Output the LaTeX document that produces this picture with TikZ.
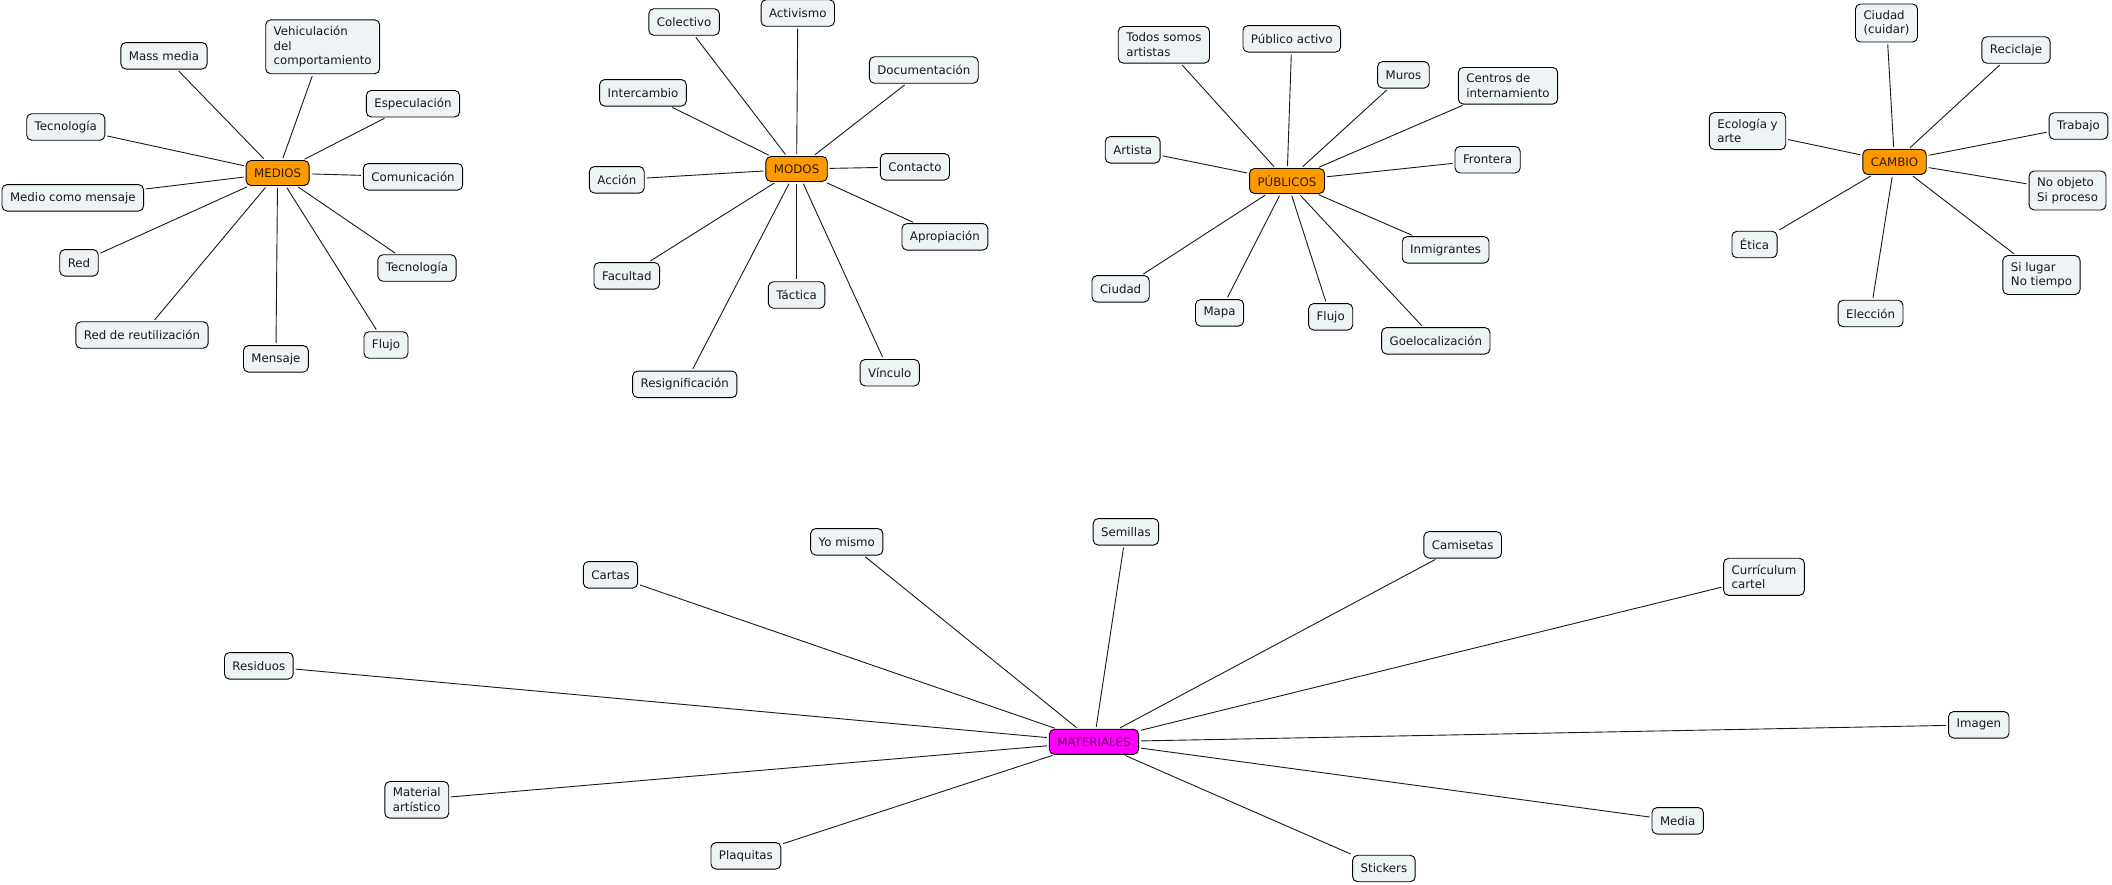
\documentclass[tikz,border=0pt]{standalone}
\usepackage{fontspec}
\setmainfont{DejaVu Sans}
\usepackage{tikz}
\definecolor{leaffill}{HTML}{EEF3F5}
\definecolor{hubfill}{HTML}{FF9900}
\definecolor{hubtext}{HTML}{2E1C00}
\definecolor{matfill}{HTML}{FF00FF}
\definecolor{mattext}{HTML}{5C005C}

\begin{document}
\begin{tikzpicture}[x=1pt, y=-1pt,
        leaf/.style={draw=black, line width=.9pt, fill=leaffill, rounded corners=5pt, align=left,
                inner xsep=8pt, inner ysep=6.5pt, minimum height=26.5pt,
                font=\fontsize{11.8}{14.5}\selectfont, text=black!90},
        hub/.style={leaf, fill=hubfill, text=hubtext, minimum height=25pt},
        link/.style={draw=black!90, line width=.9pt, shorten <=2pt, shorten >=2pt}]
        \useasboundingbox (0, 0) rectangle (2112, 884);

        % MEDIOS
        \node[hub] (medios) at (277.6, 173) {MEDIOS};
        \node[leaf] (massmedia) at (164, 55.8) {Mass media};
        \node[leaf] (vehiculacion) at (322.7, 46.8) {Vehiculación\\del\\comportamiento};
        \node[leaf] (especulacion) at (413, 103.7) {Especulación};
        \node[leaf] (tecnologiaA) at (65.8, 127) {Tecnología};
        \node[leaf] (comunicacion) at (413, 176.8) {Comunicación};
        \node[leaf] (mediomensaje) at (72.8, 197.8) {Medio como mensaje};
        \node[leaf] (red) at (79, 262.8) {Red};
        \node[leaf] (tecnologiaB) at (417, 268) {Tecnología};
        \node[leaf] (redreut) at (142, 335) {Red de reutilización};
        \node[leaf] (mensaje) at (275.9, 358.8) {Mensaje};
        \node[leaf] (flujoA) at (386, 345) {Flujo};
        \foreach \n in {massmedia, vehiculacion, especulacion, tecnologiaA, comunicacion,
                        mediomensaje, red, tecnologiaB, redreut, mensaje, flujoA} {
                \draw[link] (medios) -- (\n);
            }

        % MODOS
        \node[hub] (modos) at (796.6, 169) {MODOS};
        \node[leaf] (colectivo) at (684.1, 22) {Colectivo};
        \node[leaf] (activismo) at (797.8, 13) {Activismo};
        \node[leaf] (documentacion) at (923.8, 70) {Documentación};
        \node[leaf] (intercambio) at (643, 92.8) {Intercambio};
        \node[leaf] (contacto) at (914.9, 166.8) {Contacto};
        \node[leaf] (accion) at (616.8, 179.8) {Acción};
        \node[leaf] (apropiacion) at (944.9, 236.8) {Apropiación};
        \node[leaf] (facultad) at (626.8, 275.8) {Facultad};
        \node[leaf] (tactica) at (796.6, 295) {Táctica};
        \node[leaf] (resignificacion) at (684.8, 384.3) {Resignificación};
        \node[leaf] (vinculo) at (889.7, 372.7) {Vínculo};
        \foreach \n in {colectivo, activismo, documentacion, intercambio, contacto, accion,
                        apropiacion, facultad, tactica, resignificacion, vinculo} {
                \draw[link] (modos) -- (\n);
            }

        % PUBLICOS
        \node[hub] (publicos) at (1287, 181) {PÚBLICOS};
        \node[leaf] (todos) at (1163.9, 44.8) {Todos somos\\artistas};
        \node[leaf] (publicoactivo) at (1291.8, 38.8) {Público activo};
        \node[leaf] (muros) at (1403.4, 74.8) {Muros};
        \node[leaf] (centros) at (1508, 85.8) {Centros de\\internamiento};
        \node[leaf] (artista) at (1132.7, 149.8) {Artista};
        \node[leaf] (frontera) at (1487.6, 159.7) {Frontera};
        \node[leaf] (inmigrantes) at (1445.6, 249.8) {Inmigrantes};
        \node[leaf] (ciudadA) at (1120.6, 288.8) {Ciudad};
        \node[leaf] (mapa) at (1219.6, 312.8) {Mapa};
        \node[leaf] (flujoB) at (1330.7, 316.8) {Flujo};
        \node[leaf] (goelocalizacion) at (1435.8, 340.8) {Goelocalización};
        \foreach \n in {todos, publicoactivo, muros, centros, artista, frontera,
                        inmigrantes, ciudadA, mapa, flujoB, goelocalizacion} {
                \draw[link] (publicos) -- (\n);
            }

        % CAMBIO
        \node[hub] (cambio) at (1894.5, 162) {CAMBIO};
        \node[leaf] (ciudadB) at (1886.5, 23) {Ciudad\\(cuidar)};
        \node[leaf] (reciclaje) at (2016, 50) {Reciclaje};
        \node[leaf] (trabajo) at (2078.5, 126) {Trabajo};
        \node[leaf] (ecologia) at (1747.5, 131) {Ecología y\\arte};
        \node[leaf] (noobjeto) at (2067.5, 190.5) {No objeto\\Si proceso};
        \node[leaf] (etica) at (1754.5, 244.5) {Ética};
        \node[leaf] (silugar) at (2041.5, 275) {Si lugar\\No tiempo};
        \node[leaf] (eleccion) at (1870.5, 313.5) {Elección};
        \foreach \n in {ciudadB, reciclaje, trabajo, ecologia, noobjeto, etica, silugar, eleccion} {
                \draw[link] (cambio) -- (\n);
            }

        % MATERIALES
        \node[hub, fill=matfill, text=mattext] (materiales) at (1094, 741.8) {MATERIALES};
        \node[leaf] (cartas) at (610.5, 574.8) {Cartas};
        \node[leaf] (residuos) at (258.8, 665.8) {Residuos};
        \node[leaf] (material) at (416.8, 799.8) {Material\\artístico};
        \node[leaf] (plaquitas) at (745.9, 855.8) {Plaquitas};
        \node[leaf] (yomismo) at (846.8, 541.8) {Yo mismo};
        \node[leaf] (semillas) at (1125.9, 531.8) {Semillas};
        \node[leaf] (camisetas) at (1462.7, 544.8) {Camisetas};
        \node[leaf] (curriculum) at (1764, 576.8) {Currículum\\cartel};
        \node[leaf] (media) at (1677.7, 820.8) {Media};
        \node[leaf] (stickers) at (1383.9, 868.5) {Stickers};
        \node[leaf] (imagen) at (1978.8, 724.8) {Imagen};
        \foreach \n in {cartas, residuos, material, plaquitas, yomismo, semillas,
                        camisetas, curriculum, media, stickers, imagen} {
                \draw[link] (materiales) -- (\n);
            }
    \end{tikzpicture}
\end{document}
